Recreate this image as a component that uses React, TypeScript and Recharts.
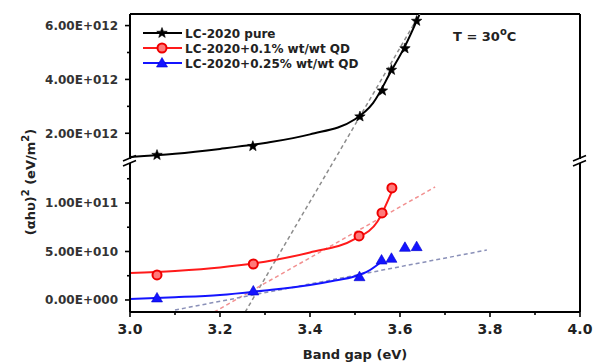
import React from 'react';
import { ComposedChart, Line, Scatter, XAxis, YAxis, ReferenceLine } from 'recharts';

// measured points (band gap eV, (ahv)^2)
const PURE_X = [3.06, 3.273, 3.511, 3.561, 3.581, 3.611, 3.637];
const PURE_Y = [1.19e12, 1.52e12, 2.62e12, 3.58e12, 4.35e12, 5.15e12, 6.17e12];
const RED_X = [3.06, 3.274, 3.509, 3.56, 3.582];
const RED_Y = [2.58e10, 3.71e10, 6.6e10, 8.97e10, 1.155e11];
const BLUE_X = [3.06, 3.274, 3.51, 3.559, 3.581, 3.611, 3.637];
const BLUE_Y = [2.1e9, 9.3e9, 2.4e10, 4.12e10, 4.3e10, 5.43e10, 5.5e10];

// fitted curves
const FIT_PURE_X = [3.0, 3.1, 3.2, 3.3, 3.4, 3.5, 3.54, 3.58, 3.61, 3.643];
const FIT_PURE_Y = [1.12e12, 1.24e12, 1.42e12, 1.64e12, 1.96e12, 2.52e12, 3.12e12, 4.3e12, 5.2e12, 6.4e12];
const FIT_RED_X = [3.0, 3.1, 3.2, 3.3, 3.4, 3.5, 3.55, 3.582];
const FIT_RED_Y = [2.78e10, 3.0e10, 3.35e10, 3.95e10, 4.9e10, 6.3e10, 8.1e10, 1.12e11];
const FIT_BLUE_X = [3.0, 3.1, 3.2, 3.3, 3.4, 3.45, 3.5, 3.53, 3.56];
const FIT_BLUE_Y = [1e9, 2.8e9, 5.2e9, 9.8e9, 1.55e10, 1.95e10, 2.45e10, 3.0e10, 4.0e10];

// tangent (dashed) lines
const TAN_PURE_UP_X = [3.453, 3.644];
const TAN_PURE_UP_Y = [0.97e12, 6.43e12];
const TAN_PURE_LOW_X = [3.256, 3.453];
const TAN_PURE_LOW_Y = [-1.24e10, 1.433e11];
const TAN_RED_X = [3.187, 3.678];
const TAN_RED_Y = [-1.24e10, 1.165e11];
const TAN_BLUE_X = [3.1, 3.793];
const TAN_BLUE_Y = [-1.03e10, 5.15e10];

const X_TICKS = [3.0, 3.1, 3.2, 3.3, 3.4, 3.5, 3.6, 3.7, 3.8, 3.9, 4.0];
const X_LABELS = ['3.0', '', '3.2', '', '3.4', '', '3.6', '', '3.8', '', '4.0'];
const UPPER_TICKS = [2e12, 3e12, 4e12, 5e12, 6e12];
const UPPER_LABELS = ['2.00E+012', '', '4.00E+012', '', '6.00E+012'];
const LOWER_TICKS = [0, 2.5e10, 5e10, 7.5e10, 1e11, 1.25e11];
const LOWER_LABELS = ['0.00E+000', '', '5.00E+010', '', '1.00E+011', ''];

const UPPER_DOMAIN = [0.97e12, 6.43e12];
const LOWER_DOMAIN = [-1.24e10, 1.433e11];

const SERIES = [
  { name: 'LC-2020 pure', color: '#000000', marker: 'star' },
  { name: 'LC-2020+0.1% wt/wt QD', color: '#ff1a1a', marker: 'circle' },
  { name: 'LC-2020+0.25% wt/wt QD', color: '#1414ff', marker: 'triangle' },
];

const FONT = '"DejaVu Sans", Arial, sans-serif';

const pts = (xs: number[], ys: number[]) => xs.map((x, i) => ({ x, y: ys[i] }));

function Marker({ cx, cy, kind }: { cx: number; cy: number; kind: string }) {
  if (kind === 'star') {
    const p: string[] = [];
    for (let i = 0; i < 10; i++) {
      const r = i % 2 === 0 ? 5.5 : 2.3;
      const a = -Math.PI / 2 + (i * Math.PI) / 5;
      p.push(`${cx + r * Math.cos(a)},${cy + r * Math.sin(a)}`);
    }
    return <polygon points={p.join(' ')} fill="#000" stroke="#000" strokeWidth={0.6} />;
  }
  if (kind === 'circle') {
    return <circle cx={cx} cy={cy} r={4.5} fill="#ff7a7a" stroke="#ee0000" strokeWidth={2} />;
  }
  return (
    <polygon
      points={`${cx},${cy - 5.5} ${cx + 5.5},${cy + 4} ${cx - 5.5},${cy + 4}`}
      fill="#1414ff"
      stroke="#0000cc"
      strokeWidth={0.6}
    />
  );
}

function YTick(props: any) {
  const { x, y, index, labels } = props;
  const label = labels[index];
  return (
    <g>
      <line x1={x} x2={x - (label ? 5 : 3)} y1={y} y2={y} stroke="#000" strokeWidth={1.6} />
      {label && (
        <text x={x - 12} y={y} dy="0.36em" textAnchor="end" fontSize={12} fontWeight="bold" fill="#333" fontFamily={FONT}>
          {label}
        </text>
      )}
    </g>
  );
}

function XTick(props: any) {
  const { x, y, index } = props;
  const label = X_LABELS[index];
  return (
    <g>
      <line x1={x} x2={x} y1={y} y2={y + (label ? 5 : 3)} stroke="#000" strokeWidth={1.6} />
      {label && (
        <text x={x} y={y + 22} textAnchor="middle" fontSize={14} fontWeight="bold" fill="#222" fontFamily={FONT}>
          {label}
        </text>
      )}
    </g>
  );
}

const axisLine = { stroke: '#000', strokeWidth: 2 };

export default function App() {
  return (
    <div style={{ position: 'relative', width: 594, height: 362, background: '#fff', overflow: 'hidden' }}>
      <style>{'body{margin:0}'}</style>
      <div style={{ position: 'absolute', left: 0, top: 0 }}>
        <ComposedChart width={594} height={161} margin={{ top: 14, right: 14, bottom: 0, left: 0 }}>
          <XAxis dataKey="x" type="number" domain={[3, 4]} allowDataOverflow hide />
          <YAxis
            dataKey="y"
            type="number"
            domain={UPPER_DOMAIN}
            allowDataOverflow
            width={130}
            ticks={UPPER_TICKS}
            interval={0}
            tickSize={0}
            tickMargin={0}
            tickLine={false}
            axisLine={axisLine}
            tick={(p: any) => <YTick {...p} labels={UPPER_LABELS} />}
          />
          <ReferenceLine y={UPPER_DOMAIN[1]} stroke="#000" strokeWidth={2} />
          <ReferenceLine x={4} stroke="#000" strokeWidth={2} />
          <Line data={pts(TAN_PURE_UP_X, TAN_PURE_UP_Y)} dataKey="y" stroke="#8c8c8c" strokeWidth={1.5} strokeDasharray="4 3" dot={false} isAnimationActive={false} />
          <Line data={pts(FIT_PURE_X, FIT_PURE_Y)} dataKey="y" type="monotone" stroke="#000" strokeWidth={2} dot={false} isAnimationActive={false} />
          <Scatter data={pts(PURE_X, PURE_Y)} dataKey="y" isAnimationActive={false} shape={(p: any) => <Marker cx={p.cx} cy={p.cy} kind="star" />} />
        </ComposedChart>
      </div>
      <div style={{ position: 'absolute', left: 0, top: 161 }}>
        <ComposedChart width={594} height={201} margin={{ top: 0, right: 14, bottom: 0, left: 0 }}>
          <XAxis
            dataKey="x"
            type="number"
            domain={[3, 4]}
            allowDataOverflow
            ticks={X_TICKS}
            interval={0}
            height={50}
            tickSize={0}
            tickMargin={0}
            tickLine={false}
            axisLine={axisLine}
            tick={(p: any) => <XTick {...p} />}
            label={{ value: 'Band gap (eV)', position: 'insideBottom', offset: 3, fontSize: 13, fontWeight: 'bold', fill: '#222', fontFamily: FONT }}
          />
          <YAxis
            dataKey="y"
            type="number"
            domain={LOWER_DOMAIN}
            allowDataOverflow
            width={130}
            ticks={LOWER_TICKS}
            interval={0}
            tickSize={0}
            tickMargin={0}
            tickLine={false}
            axisLine={axisLine}
            tick={(p: any) => <YTick {...p} labels={LOWER_LABELS} />}
          />
          <ReferenceLine x={4} stroke="#000" strokeWidth={2} />
          <Line data={pts(TAN_PURE_LOW_X, TAN_PURE_LOW_Y)} dataKey="y" stroke="#8c8c8c" strokeWidth={1.5} strokeDasharray="4 3" dot={false} isAnimationActive={false} />
          <Line data={pts(TAN_RED_X, TAN_RED_Y)} dataKey="y" stroke="#f29090" strokeWidth={1.5} strokeDasharray="4 3" dot={false} isAnimationActive={false} />
          <Line data={pts(TAN_BLUE_X, TAN_BLUE_Y)} dataKey="y" stroke="#8a90b8" strokeWidth={1.5} strokeDasharray="4 3" dot={false} isAnimationActive={false} />
          <Line data={pts(FIT_RED_X, FIT_RED_Y)} dataKey="y" type="monotone" stroke="#ff1a1a" strokeWidth={2} dot={false} isAnimationActive={false} />
          <Line data={pts(FIT_BLUE_X, FIT_BLUE_Y)} dataKey="y" type="monotone" stroke="#1414ff" strokeWidth={2} dot={false} isAnimationActive={false} />
          <Scatter data={pts(RED_X, RED_Y)} dataKey="y" isAnimationActive={false} shape={(p: any) => <Marker cx={p.cx} cy={p.cy} kind="circle" />} />
          <Scatter data={pts(BLUE_X, BLUE_Y)} dataKey="y" isAnimationActive={false} shape={(p: any) => <Marker cx={p.cx} cy={p.cy} kind="triangle" />} />
        </ComposedChart>
      </div>
      <svg width={594} height={362} style={{ position: 'absolute', left: 0, top: 0, pointerEvents: 'none' }}>
        {/* axis break marks */}
        {[130, 580].map((bx) => (
          <g key={bx}>
            <rect x={bx - 3} y={159} width={6} height={4} fill="#fff" />
            <line x1={bx - 7} y1={161} x2={bx + 6} y2={155.5} stroke="#000" strokeWidth={1.6} />
            <line x1={bx - 7} y1={166} x2={bx + 6} y2={160.5} stroke="#000" strokeWidth={1.6} />
          </g>
        ))}
        {/* legend */}
        {SERIES.map((s, i) => {
          const ly = 33 + i * 15;
          return (
            <g key={s.name}>
              <line x1={143} x2={182} y1={ly} y2={ly} stroke={s.color} strokeWidth={2} />
              <Marker cx={162} cy={ly} kind={s.marker} />
              <text x={185} y={ly + 4.5} fontSize={12} fontWeight="bold" fill="#222" fontFamily={FONT}>
                {s.name}
              </text>
            </g>
          );
        })}
        <text x={453} y={41} fontSize={13} fontWeight="bold" fill="#222" fontFamily={FONT}>
          T = 30<tspan dy={-6} fontSize={10}>o</tspan>
          <tspan dy={6}>C</tspan>
        </text>
        <text
          transform="translate(35,182) rotate(-90)"
          textAnchor="middle"
          fontSize={13}
          fontWeight="bold"
          fill="#222"
          fontFamily={FONT}
        >
          (αhυ)<tspan dy={-6} fontSize={10}>2</tspan>
          <tspan dy={6}> (eV/m</tspan>
          <tspan dy={-6} fontSize={10}>2</tspan>
          <tspan dy={6}>)</tspan>
        </text>
      </svg>
    </div>
  );
}
